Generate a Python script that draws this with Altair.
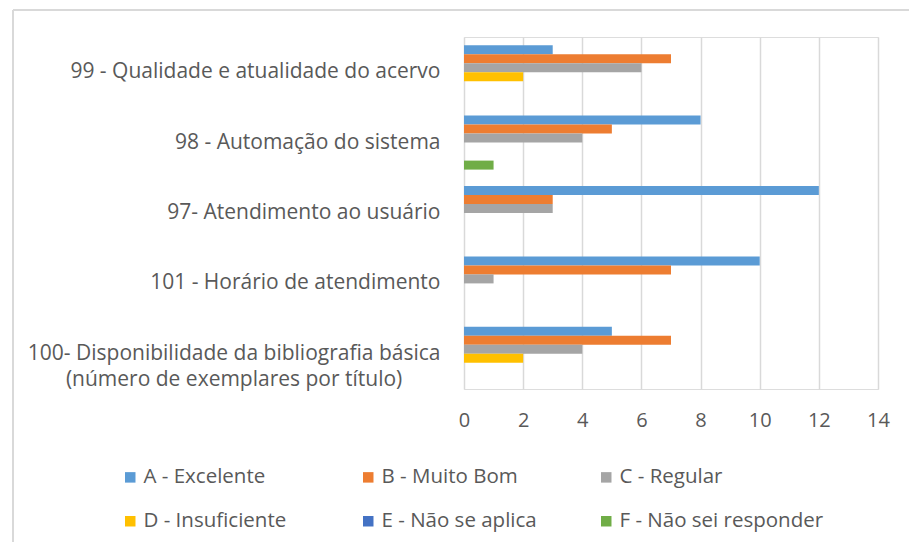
import altair as alt
import pandas as pd

categories = [
    "99 - Qualidade e atualidade do acervo",
    "98 - Automação do sistema",
    "97- Atendimento ao usuário",
    "101 - Horário de atendimento",
    "100- Disponibilidade da bibliografia básica|(número de exemplares por título)",
]
series = ["A - Excelente", "B - Muito Bom", "C - Regular",
          "D - Insuficiente", "E - Não se aplica", "F - Não sei responder"]
colors = ["#5B9BD5", "#ED7D31", "#A5A5A5", "#FFC000", "#4472C4", "#70AD47"]

a_vals = [3, 8, 12, 10, 5]
b_vals = [7, 5, 3, 7, 7]
c_vals = [6, 4, 3, 1, 4]
d_vals = [2, 0, 0, 0, 2]
e_vals = [0, 0, 0, 0, 0]
f_vals = [0, 1, 0, 0, 0]
x_ticks = [0, 2, 4, 6, 8, 10, 12, 14]

rows = []
for s, vals in zip(series, [a_vals, b_vals, c_vals, d_vals, e_vals, f_vals]):
    for c, v in zip(categories, vals):
        rows.append({"cat": c, "serie": s, "val": v})
df = pd.DataFrame(rows)

FONT = "Open Sans"
TXT = "#595959"
GRID = "#D9D9D9"

W, H = 414, 352

# pad the second line so it looks centred under the first (ZWSP stops trimming)
PAD = "\u00a0" * 7 + "\u200b"
label_expr = "split(replace(datum.value, ')', ')" + PAD + "'), '|')"

bars = alt.Chart(df).mark_bar().encode(
    y=alt.Y("cat:N", sort=categories,
            scale=alt.Scale(paddingInner=0.233, paddingOuter=0.1165),
            axis=alt.Axis(title=None, domain=False, ticks=False, grid=False,
                          labelPadding=24, labelFontSize=21, labelColor=TXT,
                          labelFont=FONT, labelLimit=500, labelLineHeight=26,
                          labelExpr=label_expr)),
    yOffset=alt.YOffset("serie:N", sort=series, scale=alt.Scale(paddingInner=0, paddingOuter=0)),
    x=alt.X("val:Q", scale=alt.Scale(domain=[0, 14], nice=False),
            axis=alt.Axis(title=None, values=x_ticks, domain=False, ticks=False,
                          grid=True, gridColor=GRID, gridWidth=1.5, labelFlush=False,
                          labelPadding=21, labelFontSize=20, labelColor=TXT,
                          labelFont=FONT)),
    color=alt.Color("serie:N", sort=series,
                    scale=alt.Scale(domain=series, range=colors),
                    legend=alt.Legend(title=None, orient="none", legendX=-344, legendY=430,
                                      direction="horizontal",
                                      columns=3, gridAlign="all", columnPadding=10,
                                      rowPadding=23, symbolType="square", symbolSize=110,
                                      symbolStrokeWidth=0, labelFontSize=20.5,
                                      labelOffset=3,
                                      labelColor=TXT, labelFont=FONT, padding=0,
                                      labelLimit=400)),
)

# chart frame (light gray border)
frame_v = alt.Chart(pd.DataFrame({"k": [0]})).mark_rule(color=GRID, strokeWidth=2).encode(
    x=alt.value(-451), y=alt.value(-27), y2=alt.value(H + 170))
frame_h = alt.Chart(pd.DataFrame({"k": [0]})).mark_rule(color=GRID, strokeWidth=2).encode(
    x=alt.value(-451), x2=alt.value(W + 60), y=alt.value(-27))

chart = alt.layer(bars, frame_v, frame_h).properties(
    width=W, height=H,
    autosize=alt.AutoSizeParams(type="none"),
    padding={"left": 456, "top": 29, "right": 31, "bottom": 153},
).configure_view(stroke=None).configure(background="white")

chart.save("out.html", embed_options={"renderer": "svg", "actions": False})
